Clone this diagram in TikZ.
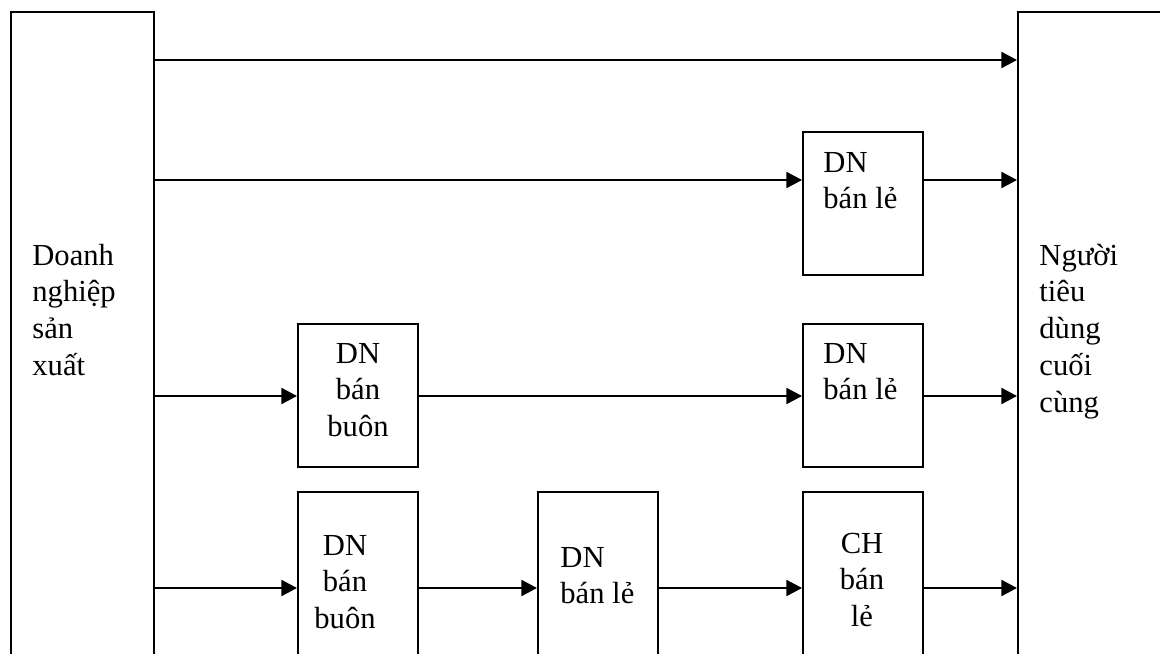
\documentclass[tikz,border=0pt]{standalone}
\usepackage{fontspec}
\setmainfont{Liberation Serif}
\usetikzlibrary{arrows.meta,fit}
\newcommand{\lbl}[2]{\parbox[t]{#1}{#2}}
\begin{document}
\begin{tikzpicture}[x=0.5pt,y=-0.5pt,
  box/.style={draw,line width=1pt,inner sep=0pt,rectangle},
  arr/.style={line width=1pt,-{Triangle[length=7.8pt,width=8pt]}},
  txt/.style={inner sep=0pt,font=\fontsize{15.3}{18.4}\selectfont}]
\useasboundingbox (0,0) rectangle (1160,653);
\clip (0,0) rectangle (1160,653);
% boxes
\node[box,fit={(11,12) (154,720)}] (L) {};
\node[box,fit={(1018,12) (1190,720)}] (R) {};
\node[box,fit={(803,132) (923,275)}] (b1) {};
\node[box,fit={(298,324) (418,467)}] (b2) {};
\node[box,fit={(803,324) (923,467)}] (b3) {};
\node[box,fit={(298,492) (418,720)}] (b4) {};
\node[box,fit={(538,492) (658,720)}] (b5) {};
\node[box,fit={(803,492) (923,720)}] (b6) {};
% texts
\node[txt,anchor=base west] (tL) at (32,265) {\lbl{70pt}{\raggedright Doanh\\nghiệp\\sản\\xuất}};
\node[txt,anchor=base west] (tR) at (1039,265) {\lbl{70pt}{\raggedright Người\\tiêu\\dùng\\cuối\\cùng}};
\node[txt,anchor=base west] (t1) at (823,172) {\lbl{55pt}{\raggedright DN\\bán lẻ}};
\node[txt,anchor=base] (t2) at (358,363) {\lbl{50pt}{\centering DN\\bán\\buôn}};
\node[txt,anchor=base west] (t3) at (823,363) {\lbl{55pt}{\raggedright DN\\bán lẻ}};
\node[txt,anchor=base] (t4) at (345,555) {\lbl{50pt}{\centering DN\\bán\\buôn}};
\node[txt,anchor=base west] (t5) at (560,567) {\lbl{55pt}{\raggedright DN\\bán lẻ}};
\node[txt,anchor=base] (t6) at (862,553) {\lbl{50pt}{\centering CH\\bán\\lẻ}};
% row levels
\coordinate (y1) at (0,60);
\coordinate (y2) at (0,180);
\coordinate (y3) at (0,396);
\coordinate (y4) at (0,588);
% connectors
\draw[arr] (L.east |- y1) -- (R.west |- y1);
\draw[arr] (L.east |- y2) -- (b1.west |- y2);
\draw[arr] (b1.east |- y2) -- (R.west |- y2);
\draw[arr] (L.east |- y3) -- (b2.west |- y3);
\draw[arr] (b2.east |- y3) -- (b3.west |- y3);
\draw[arr] (b3.east |- y3) -- (R.west |- y3);
\draw[arr] (L.east |- y4) -- (b4.west |- y4);
\draw[arr] (b4.east |- y4) -- (b5.west |- y4);
\draw[arr] (b5.east |- y4) -- (b6.west |- y4);
\draw[arr] (b6.east |- y4) -- (R.west |- y4);
\end{tikzpicture}
\end{document}
